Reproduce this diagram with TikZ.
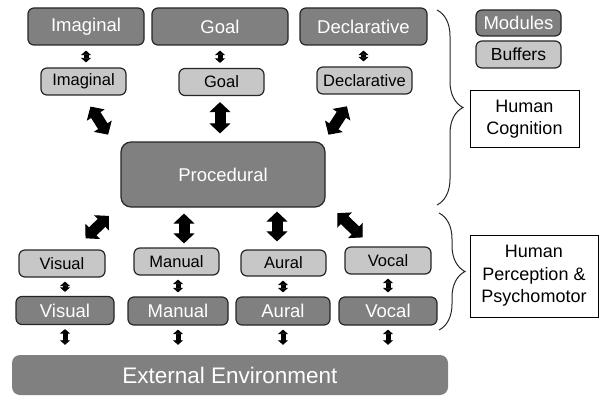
\documentclass[tikz,border=0pt]{standalone}
\usepackage{fontspec}
\setmainfont{Liberation Sans}
\usetikzlibrary{arrows.meta,decorations.pathreplacing,calc}
\definecolor{modGray}{RGB}{128,128,128}
\definecolor{bufGray}{RGB}{199,199,199}
\tikzset{
  module/.style={rectangle,rounded corners=6pt,draw=black!85,line width=1.2pt,fill=modGray,
                 text=white,inner sep=0pt,font=\fontsize{18.5}{20}\selectfont},
  buffer/.style={module,fill=bufGray,text=black,font=\fontsize{16.5}{18}\selectfont},
  envbox/.style={rectangle,rounded corners=8pt,fill=modGray,text=white,inner sep=0pt,
                 font=\fontsize{22.5}{24}\selectfont},
  groupbox/.style={rectangle,draw=black,line width=1pt,fill=white,align=center,inner sep=0pt,
                   font=\fontsize{18}{22.5}\selectfont},
  bigArrow/.style={{Triangle[width=21pt,length=10pt,line width=1pt]}-{Triangle[width=21pt,length=10pt,line width=1pt]},
                   line width=11pt},
  smallArrow/.style={{Triangle[width=10pt,length=4.5pt,line width=0.8pt]}-{Triangle[width=10pt,length=4.5pt,line width=0.8pt]},
                     line width=5pt},
  groupBrace/.style={decorate,decoration={brace,amplitude=26pt},line width=1pt,draw=black!85},
}
\begin{document}
\begin{tikzpicture}[x=1pt,y=-1pt]
  \useasboundingbox (0,0) rectangle (600,396);
  % ---- cognition modules and buffers ----
  \node[module,minimum width=116pt,minimum height=37pt] (modImaginal) at (86,26.5) {Imaginal};
  \node[module,minimum width=136pt,minimum height=37pt] (modGoal) at (220,26.5) {Goal};
  \node[module,minimum width=127pt,minimum height=37pt] (modDecl) at (363.5,26.5) {Declarative};
  \node[buffer,minimum width=85pt,minimum height=27pt] (bufImaginal) at (83.5,81.5) {Imaginal};
  \node[buffer,minimum width=85pt,minimum height=27pt] (bufGoal) at (221.5,82) {Goal};
  \node[buffer,minimum width=95pt,minimum height=27pt] (bufDecl) at (364.5,80.5) {Declarative};
  \node[module,rounded corners=10pt,minimum width=204pt,minimum height=65pt] (proc) at (223,174.5) {Procedural};
  % ---- perception / motor buffers and modules ----
  \node[buffer,minimum width=86pt,minimum height=27pt] (bufVisual) at (62,263.5) {Visual};
  \node[buffer,minimum width=85pt,minimum height=27pt] (bufManual) at (176.5,261.5) {Manual};
  \node[buffer,minimum width=85pt,minimum height=26pt] (bufAural) at (283.5,263) {Aural};
  \node[buffer,minimum width=86pt,minimum height=27pt] (bufVocal) at (388,260.5) {Vocal};
  \node[module,minimum width=98pt,minimum height=28pt] (modVisual) at (65,310.5) {Visual};
  \node[module,minimum width=100pt,minimum height=28pt] (modManual) at (178,311) {Manual};
  \node[module,minimum width=94pt,minimum height=28pt] (modAural) at (283,311) {Aural};
  \node[module,minimum width=98pt,minimum height=28pt] (modVocal) at (388,311) {Vocal};
  % ---- environment ----
  \node[envbox,minimum width=436pt,minimum height=40pt] (env) at (230,375) {External Environment};
  % ---- legend and groups ----
  \node[module,minimum width=85pt,minimum height=26pt] (legModules) at (518.5,23) {Modules};
  \node[buffer,font=\fontsize{17.5}{19}\selectfont,minimum width=85pt,minimum height=27pt] (legBuffers) at (518.5,54.5) {Buffers};
  \node[groupbox,minimum width=109pt,minimum height=56pt] (cognition) at (524.5,119) {Human\\Cognition};
  \node[groupbox,minimum width=128pt,minimum height=82pt] (perception) at (534,276) {Human\\Perception \&\\Psychomotor};
  \coordinate (cogTop) at (437,10);
  \coordinate (cogBot) at (437,205);
  \coordinate (perTop) at (439,213);
  \coordinate (perBot) at (439,330);
  \draw[groupBrace] (cogTop) -- (cogBot);
  \draw[groupBrace] (perTop) -- (perBot);
  % ---- module <-> buffer ----
  \foreach \n in {Imaginal,Goal,Decl}
    \draw[smallArrow,shorten <=5pt,shorten >=5pt] (mod\n.south) -- (mod\n.south |- buf\n.north);
  \foreach \n in {Visual,Manual,Aural,Vocal} {
    \draw[smallArrow,shorten <=4pt,shorten >=4pt] (mod\n.north) -- (mod\n.north |- buf\n.south);
    \draw[smallArrow,shorten <=4pt,shorten >=10pt] (mod\n.south) -- (mod\n.south |- env.north);
  }
  % ---- buffers <-> procedural ----
  \draw[bigArrow,shorten <=13pt,shorten >=8pt] (bufImaginal.south) -- ([xshift=-8pt]proc.north west);
  \draw[bigArrow,shorten <=6pt,shorten >=8pt] ([xshift=-1.5pt]bufGoal.south) -- ([xshift=-1.5pt]bufGoal.south |- proc.north);
  \draw[bigArrow,shorten <=14pt,shorten >=8pt] ([xshift=-10pt]bufDecl.south) -- ([xshift=-1.5pt]proc.north east);
  \draw[bigArrow,shorten <=12pt,shorten >=16pt] ([xshift=-3pt]proc.south west) -- ([xshift=12pt]bufVisual.north);
  \draw[bigArrow,shorten <=6pt,shorten >=4pt] ([xshift=7.5pt]bufManual.north |- proc.south) -- ([xshift=7.5pt]bufManual.north);
  \draw[bigArrow,shorten <=4pt,shorten >=8pt] ([xshift=-6.5pt]bufAural.north |- proc.south) -- ([xshift=-6.5pt]bufAural.north);
  \draw[bigArrow,shorten <=8pt,shorten >=13pt] ([xshift=6pt]proc.south east) -- ([xshift=-16pt]bufVocal.north);
\end{tikzpicture}
\end{document}
